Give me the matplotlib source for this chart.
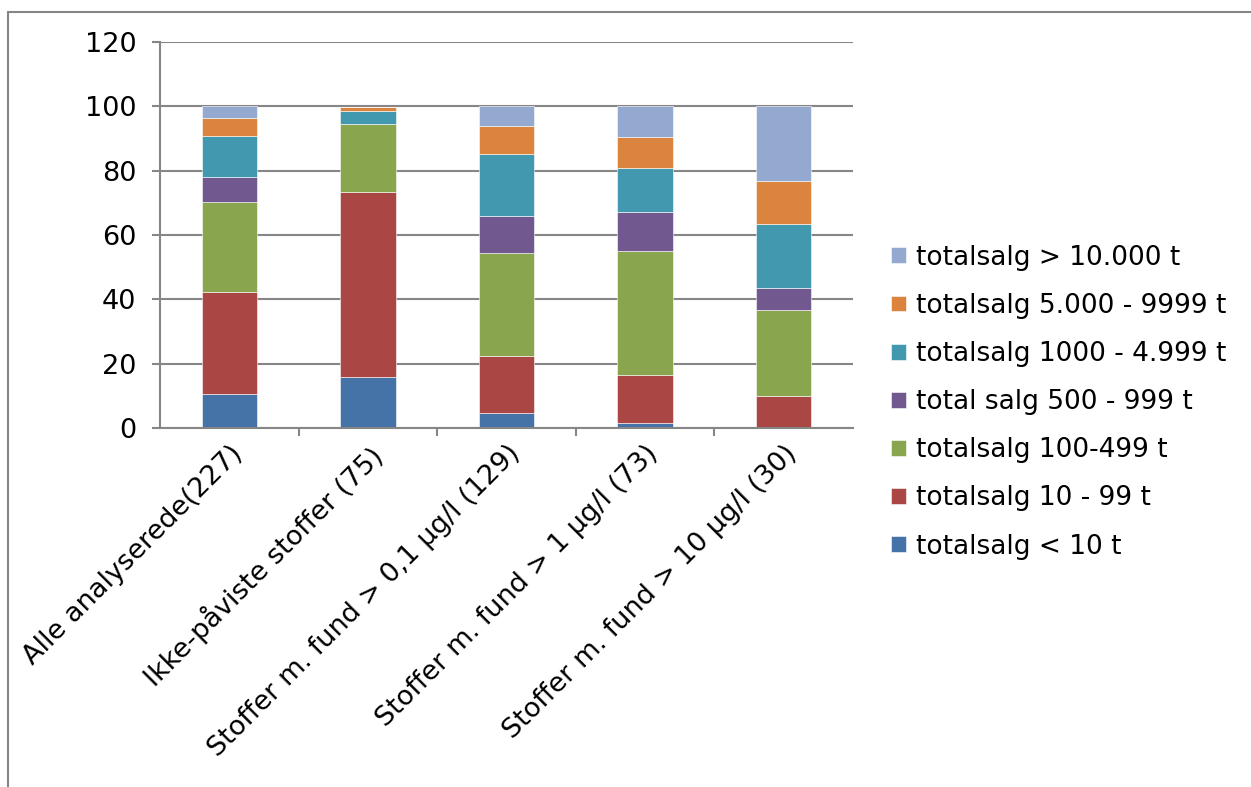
import numpy as np
import matplotlib
matplotlib.use('Agg')
from matplotlib import pyplot as plt
from matplotlib.patches import Rectangle

categories = ['Alle analyserede(227)', 'Ikke-påviste stoffer (75)',
              'Stoffer m. fund > 0,1 µg/l (129)', 'Stoffer m. fund > 1 µg/l (73)',
              'Stoffer m. fund > 10 µg/l (30)']

series = ['totalsalg < 10 t', 'totalsalg 10 - 99 t', 'totalsalg 100-499 t',
          'total salg 500 - 999 t', 'totalsalg 1000 - 4.999 t',
          'totalsalg 5.000 - 9999 t', 'totalsalg > 10.000 t']

# percentages per category, one list per series
lt10 = [10.6, 16.0, 4.7, 1.4, 0.0]
s10_99 = [31.7, 57.3, 17.8, 15.1, 10.0]
s100_499 = [27.8, 21.3, 31.8, 38.4, 26.7]
s500_999 = [7.9, 0.0, 11.6, 12.3, 6.7]
s1000_4999 = [12.8, 4.0, 19.4, 13.7, 20.0]
s5000_9999 = [5.7, 1.3, 8.5, 9.6, 13.3]
gt10000 = [3.5, 0.0, 6.2, 9.6, 23.3]

colors = ['#4572A7', '#AA4643', '#89A54E', '#71588F', '#4198AF', '#DB843D', '#93A9CF']

data = [lt10, s10_99, s100_499, s500_999, s1000_4999, s5000_9999, gt10000]

fs = 19.5
fig = plt.figure(figsize=(12.51, 7.87), dpi=100)
ax = fig.add_axes([0.1279, 0.4562, 0.554, 0.4905])

x = np.arange(len(categories))
bottom = np.zeros(len(categories))
handles = []
for vals, name, c in zip(data, series, colors):
    h = ax.bar(x, vals, 0.4, bottom=bottom, color=c, label=name,
               edgecolor='white', linewidth=0.4)
    handles.append(h)
    bottom += np.array(vals)

gray = '#868686'
ax.set_xlim(-0.5, len(categories) - 0.5)
ax.set_ylim(0, 120)
ax.set_yticks(np.arange(0, 121, 20))
ax.yaxis.grid(True, color=gray, linewidth=1.5)
ax.set_axisbelow(True)
for s in ['top', 'right']:
    ax.spines[s].set_visible(False)
for s in ['left', 'bottom']:
    ax.spines[s].set_color(gray)
    ax.spines[s].set_linewidth(1.5)
ax.tick_params(axis='y', length=6, width=1.5, color=gray, labelsize=fs, pad=11)

ax.set_xticks(x)
ax.set_xticklabels(categories, rotation=45, ha='right', rotation_mode='anchor',
                   fontsize=fs)
ax.tick_params(axis='x', length=0, pad=9)
ax.set_xticks(np.arange(0.5, len(categories) - 0.5, 1), minor=True)
ax.tick_params(axis='x', which='minor', length=6, width=1.5, color=gray)

fig.legend(handles[::-1], series[::-1], loc='center left',
           bbox_to_anchor=(0.6935, 0.489), frameon=False, fontsize=19,
           handlelength=0.55, handleheight=0.55, handletextpad=0.4,
           labelspacing=0.84)

fig.patches.append(Rectangle((8 / 1251, -0.1), 1.2, 1.1 - 12 / 787,
                             transform=fig.transFigure, fill=False,
                             edgecolor=gray, linewidth=1.5))

fig.savefig('out.png', dpi=100)
